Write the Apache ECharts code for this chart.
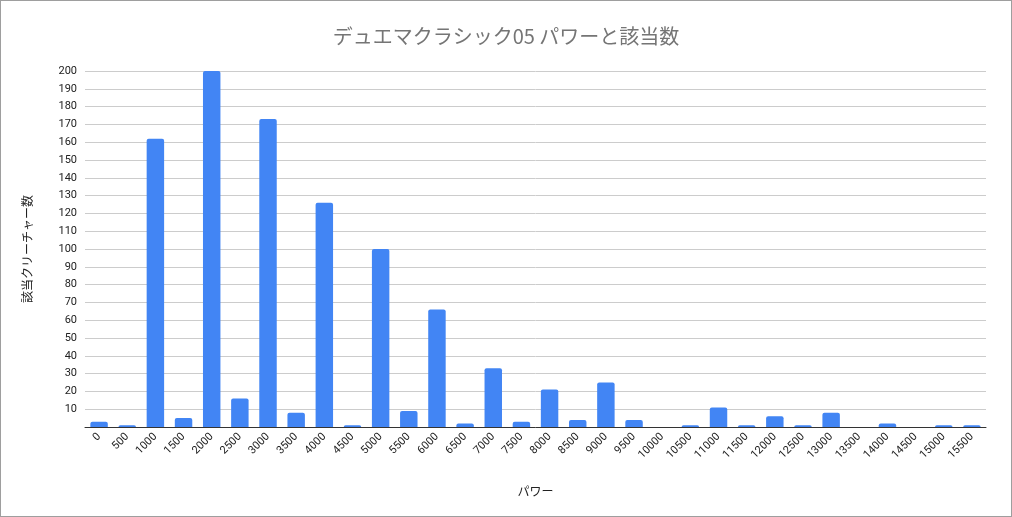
<!DOCTYPE html>
<html>
<head>
<meta charset="utf-8">
<script src="https://cdn.jsdelivr.net/npm/echarts@6/dist/echarts.min.js"></script>
<style>
  html, body { margin: 0; padding: 0; background: #fff; }
  #chart { width: 1010px; height: 515px; border: 1px solid #9e9e9e; }
</style>
</head>
<body>
<div id="chart"></div>
<script>
// パワー区分
const categories = ['0', '500', '1000', '1500', '2000', '2500', '3000', '3500', '4000', '4500',
  '5000', '5500', '6000', '6500', '7000', '7500', '8000', '8500', '9000', '9500',
  '10000', '10500', '11000', '11500', '12000', '12500', '13000', '13500', '14000', '14500',
  '15000', '15500']
// 該当クリーチャー数
const counts = [3, 1, 162, 5, 200, 16, 173, 8, 126, 1,
  100, 9, 66, 2, 33, 3, 21, 4, 25, 4,
  0, 1, 11, 1, 6, 1, 8, 0, 2, 0,
  1, 1]

const chart = echarts.init(document.getElementById('chart'))

chart.setOption({
  title: {
    text: 'デュエマクラシック05 パワーと該当数',
    left: 'center',
    top: 20,
    textStyle: { color: '#757575', fontSize: 20, fontWeight: 'normal', fontFamily: 'Noto Sans CJK JP' },
  },
  grid: { left: 84, right: 25, top: 70, bottom: 89 },
  xAxis: {
    type: 'category',
    data: categories,
    name: 'パワー',
    nameLocation: 'middle',
    nameGap: 58,
    nameTextStyle: { color: '#222', fontSize: 12, fontFamily: 'Noto Sans CJK JP' },
    axisLine: { lineStyle: { color: '#333' } },
    axisTick: { show: false },
    axisLabel: { rotate: 45, color: '#222', fontSize: 11, interval: 0, fontFamily: 'Roboto' },
  },
  yAxis: {
    type: 'value',
    min: 0,
    max: 200,
    interval: 10,
    name: '該当クリーチャー数',
    nameLocation: 'middle',
    nameGap: 52,
    nameTextStyle: { color: '#222', fontSize: 12, fontFamily: 'Noto Sans CJK JP' },
    axisLabel: {
      color: '#222', fontSize: 11, fontFamily: 'Roboto',
      formatter: (v) => (v === 0 ? '' : v),
    },
    splitLine: { lineStyle: { color: '#ccc' } },
  },
  series: [
    {
      type: 'bar',
      data: counts,
      barWidth: '62%',
      itemStyle: { color: '#4285f4', borderRadius: [2, 2, 0, 0] },
    },
  ],
})
</script>
</body>
</html>
